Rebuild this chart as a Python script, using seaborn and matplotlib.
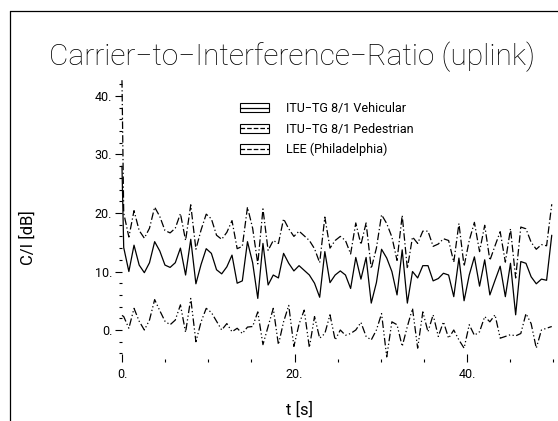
import numpy as np
import pandas as pd
import matplotlib
matplotlib.use("Agg")
import matplotlib.pyplot as plt
import seaborn as sns
from matplotlib.ticker import MultipleLocator, FixedLocator, FuncFormatter
from matplotlib.legend_handler import HandlerBase
from matplotlib.patches import Rectangle
from matplotlib.lines import Line2D

# ---------------- data ----------------
t = [0.0] + list(np.round(np.linspace(0.2, 49.8, 84), 3))

vehicular = [28.0,
    14.1, 10.0, 14.5, 11.1, 9.8, 11.5, 15.1, 13.5, 11.1, 10.7,
    11.5, 14.0, 9.4, 15.5, 7.9, 11.2, 13.9, 13.1, 10.3, 9.6,
    10.8, 12.8, 8.0, 8.4, 15.1, 11.5, 5.4, 14.8, 7.7, 9.4,
    8.9, 13.1, 11.4, 10.1, 11.0, 10.2, 9.4, 8.0, 5.6, 13.4,
    8.1, 9.4, 10.1, 9.4, 7.1, 12.4, 8.7, 12.4, 4.6, 8.1,
    13.8, 12.3, 10.0, 6.0, 13.7, 4.6, 10.0, 8.9, 11.0, 11.0,
    8.4, 8.8, 9.7, 9.4, 5.7, 12.3, 5.0, 9.4, 12.5, 7.5,
    12.0, 6.0, 8.5, 10.9, 5.7, 11.4, 2.6, 11.7, 11.4, 9.1,
    7.9, 8.7, 8.5, 16.2]

pedestrian = [2.5,
    2.3, 0.3, 3.7, 1.5, 0.0, 1.7, 5.2, 3.3, 1.5, 0.9,
    1.7, 4.3, -0.4, 5.4, -2.0, 1.4, 3.7, 3.0, 1.5, 0.0,
    1.1, -0.3, 0.3, -0.6, 0.5, 0.6, 3.1, -2.5, 0.6, 3.7,
    -2.5, 1.4, 4.2, -2.8, 1.0, 3.4, -3.0, 2.3, -1.4, -0.6,
    2.6, -1.7, 0.0, -0.9, -0.6, 0.0, 1.3, -1.1, -1.7, 0.0,
    2.8, -4.6, 1.4, 0.9, -2.8, 0.6, 3.7, -3.1, 3.1, -0.3,
    2.6, -1.1, 1.4, -1.4, 0.0, -1.7, -3.1, 0.9, -0.9, -0.3,
    2.3, 1.4, 2.6, -1.4, -1.1, -0.8, -1.0, -0.6, 2.8, 1.1,
    -3.1, 0.0, 0.3, 0.6]

lee = [42.7,
    20.0, 15.9, 20.4, 17.0, 15.7, 17.4, 21.0, 19.4, 17.0, 16.6,
    17.4, 19.9, 15.3, 21.4, 13.8, 17.1, 19.8, 19.0, 16.2, 15.5,
    16.7, 18.7, 13.9, 14.3, 21.0, 17.4, 11.3, 20.7, 13.6, 15.3,
    14.8, 19.0, 17.3, 16.0, 16.9, 16.1, 15.3, 13.9, 11.5, 19.3,
    14.0, 15.3, 16.0, 15.3, 13.0, 18.3, 14.6, 18.3, 10.5, 14.0,
    19.7, 18.2, 15.9, 11.9, 19.6, 10.5, 15.9, 14.8, 16.9, 16.9,
    14.3, 14.7, 15.6, 15.3, 11.6, 18.2, 10.9, 15.3, 18.4, 13.4,
    17.9, 11.9, 14.4, 16.8, 11.6, 17.3, 8.9, 17.6, 17.3, 15.0,
    13.8, 14.6, 14.4, 21.5]

labels = ["ITU\u2212TG 8/1 Vehicular", "ITU\u2212TG 8/1 Pedestrian", "LEE (Philadelphia)"]
title = "Carrier\u2212to\u2212Interference\u2212Ratio (uplink)"
xlabel = "t [s]"
ylabel = "C/I [dB]"
x_major = [0, 20, 40]
y_major = [0, 10, 20, 30, 40]

# ---------------- style ----------------
sns.set_style("white")
plt.rcParams["font.family"] = ["Roboto", "DejaVu Sans"]
plt.rcParams["font.weight"] = "normal"
for k in ["text.color", "axes.labelcolor", "xtick.color", "ytick.color"]:
    plt.rcParams[k] = "black"

fig = plt.figure(figsize=(5.58, 4.21), dpi=100)
ax = fig.add_axes([0.2186, 0.1397, 0.7733, 0.6712])

styles = ["-", (0, (6, 2, 1, 2, 1, 2)), (0, (6, 2, 1, 2))]
series = [vehicular, pedestrian, lee]
lines = []
for s, ls, lab in zip(series, styles, labels):
    sns.lineplot(x=t, y=s, ax=ax, color="black", linewidth=0.9, linestyle=ls,
                 sort=False, estimator=None, clip_on=False)
    lines.append(Line2D([], [], color="black", linewidth=0.9, linestyle=ls, label=lab))

ax.set_xlim(0, 50)
ax.set_ylim(-5.5, 42.8)
for sp in ax.spines.values():
    sp.set_visible(False)

ax.xaxis.set_major_locator(FixedLocator(x_major))
ax.xaxis.set_minor_locator(MultipleLocator(5))
ax.yaxis.set_major_locator(FixedLocator(y_major))
ax.yaxis.set_minor_locator(MultipleLocator(2))
fmt = FuncFormatter(lambda v, p: f"{v:.0f}.")
ax.xaxis.set_major_formatter(fmt)
ax.yaxis.set_major_formatter(fmt)
ax.tick_params(axis="x", which="major", direction="in", length=6, width=0.8,
               bottom=True, labelsize=9, pad=4, colors="black")
ax.tick_params(axis="x", which="minor", direction="in", length=2, width=0.8, bottom=True)
ax.tick_params(axis="y", which="major", direction="out", length=5, width=0.8,
               left=True, labelsize=9, pad=2, colors="black")
ax.tick_params(axis="y", which="minor", direction="out", length=2.5, width=0.8, left=True)
ax.set_xlabel("")
ax.set_ylabel("")

fig.text(28 / 558, 1 - 238 / 421, ylabel, rotation=90, ha="center", va="center",
         fontsize=12, fontweight="normal")
fig.text(300 / 558, 1 - 410 / 421, xlabel, ha="center", va="center",
         fontsize=12, fontweight="normal")
fig.text(292 / 558, 1 - 57 / 421, title, ha="center", va="center",
         fontsize=21.5, fontweight="light")


class BoxLine(HandlerBase):
    def create_artists(self, legend, orig_handle, xdescent, ydescent, width, height, fontsize, trans):
        r = Rectangle((-xdescent, -ydescent), width, height, fill=False, lw=0.8,
                      ec="black", transform=trans)
        l = Line2D([-xdescent, -xdescent + width], [-ydescent + height / 2] * 2,
                   color="black", lw=0.9, linestyle=orig_handle.get_linestyle(), transform=trans)
        return [r, l]


leg = ax.legend(handles=lines, loc="upper left", bbox_to_anchor=(240 / 558, 1 - 102 / 421),
                bbox_transform=fig.transFigure, frameon=False, fontsize=9,
                handlelength=2.3, handleheight=0.75, handletextpad=1.4, labelspacing=0.6,
                borderpad=0, borderaxespad=0, handler_map={Line2D: BoxLine()})

# outer frame (top and left edges)
fig.add_artist(Line2D([10 / 558, 1], [1 - 11 / 421] * 2, color="black", lw=0.9, transform=fig.transFigure))
fig.add_artist(Line2D([10 / 558] * 2, [1 - 11 / 421, 0], color="black", lw=0.9, transform=fig.transFigure))

fig.savefig("out.png", dpi=100, facecolor="white")
